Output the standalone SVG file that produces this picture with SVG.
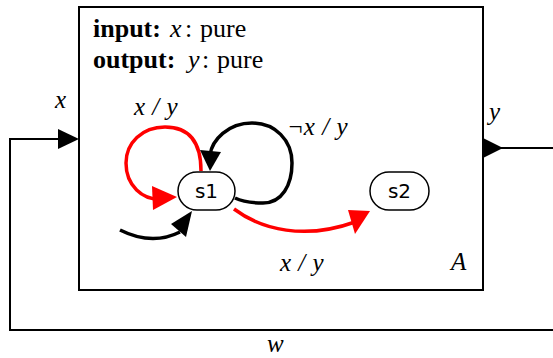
<svg xmlns="http://www.w3.org/2000/svg" width="553" height="358" viewBox="0 0 553 358">
<defs>
<style>
.t{font-family:"Liberation Serif",serif;font-size:25px;fill:#000}
.h{font-size:26px}
.i{font-style:italic}
.b{font-weight:bold}
.st{font-family:"DejaVu Sans",sans-serif;font-size:20px;fill:#000}
.node{fill:#fff;stroke:#000;stroke-width:1.5}
.tr{fill:none;stroke-width:3.5;stroke-linecap:butt}
.wire{fill:none;stroke:#000;stroke-width:2}
</style>
</defs>
<g id="actor-A">
<rect x="79" y="7" width="404" height="283" fill="#fff" stroke="#000" stroke-width="2"/>
<text class="t h" y="37"><tspan class="b" x="93">input:</tspan><tspan class="i" x="170">x</tspan><tspan x="185">:</tspan><tspan x="200">pure</tspan></text>
<text class="t h" y="68"><tspan class="b" x="93">output:</tspan><tspan class="i" x="188">y</tspan><tspan x="202">:</tspan><tspan x="217">pure</tspan></text>
<text class="t i" x="451" y="270" font-size="24">A</text>
</g>
<g id="connectors">
<path class="wire" d="M553,330 H10 V139 H60"/>
<polygon points="58,129 79,139 58,149" fill="#000"/>
<path class="wire" d="M500,148 H553"/>
<polygon points="483,138 503,148 483,158" fill="#000"/>
<text class="t i" x="55" y="108">x</text>
<text class="t i" x="489" y="120">y</text>
<text class="t i" x="267" y="352">w</text>
<!-- red self loop -->
<path class="tr" stroke="#f00" d="M201,171 C201,140 188,127 165,127 C142,127 126,143 126,163 C126,185 142,201 163,199"/>
<polygon points="152,186 177,197 153,210" fill="#f00"/>
<!-- black self loop -->
<path class="tr" stroke="#000" d="M235,198 C245,203 255,203 263,203 C282,203 292,185 292,163 C292,140 275,123 252,123 C228,123 212,140 210,155"/>
<polygon points="200,150 210,171 221,152" fill="#000"/>
<!-- initial -->
<path class="tr" stroke="#000" d="M120,230 C140,240 160,242 180,232"/>
<polygon points="171,224 192,211 186,237" fill="#000"/>
<!-- s1 -> s2 -->
<path class="tr" stroke="#f00" d="M234,209 C262,230 305,240 355,222"/>
<polygon points="348,210 370,211 355,234" fill="#f00"/>
<text class="t i" x="134" y="115">x <tspan dx="1">/</tspan> <tspan dx="1">y</tspan></text>
<text class="t i" x="287" y="135">¬x <tspan dx="1">/</tspan> <tspan dx="1">y</tspan></text>
<text class="t i" x="280" y="271">x <tspan dx="1">/</tspan> <tspan dx="1">y</tspan></text>
</g>
<g id="s1">
<rect class="node" x="178" y="172" width="57" height="38" rx="19"/>
<text class="st" x="206.5" y="198" text-anchor="middle">s1</text>
</g>
<g id="s2">
<rect class="node" x="370" y="172" width="59" height="38" rx="19"/>
<text class="st" x="399.5" y="198" text-anchor="middle">s2</text>
</g>
</svg>
